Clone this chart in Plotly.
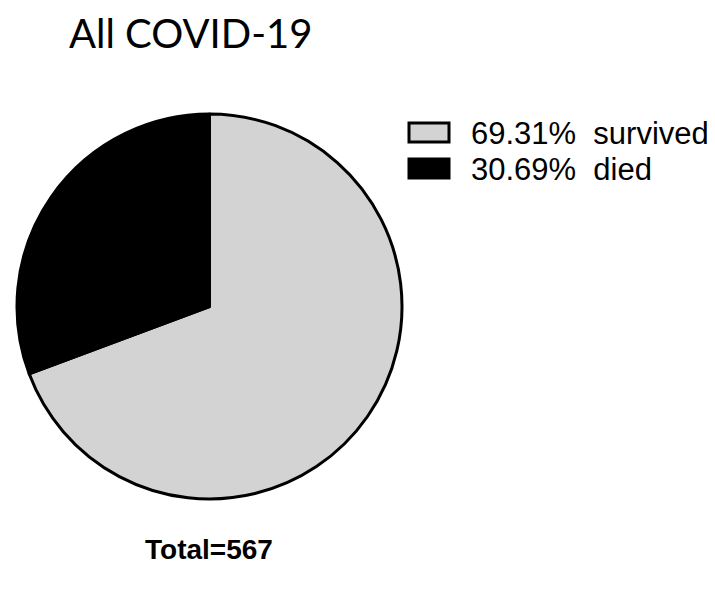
import plotly.graph_objects as go

labels = ["survived", "died"]
counts = [393, 174]
percents = ["69.31%", "30.69%"]
colors = ["#d3d3d3", "#000000"]
total = sum(counts)

W, H = 715, 589
OFF = 8  # page body margin offset


def px(x):
    return (x - OFF) / W


def py(y):
    return 1 - (y - OFF) / H


fig = go.Figure(go.Pie(
    labels=labels,
    values=counts,
    sort=False,
    direction="clockwise",
    rotation=0,
    marker=dict(colors=colors, line=dict(color="black", width=3)),
    textinfo="none",
    hoverinfo="label+value+percent",
    showlegend=False,
    domain=dict(x=[px(17), px(402)], y=[py(499), py(114)]),
))

shapes = []
annotations = [
    dict(text="All COVID-19", x=px(67), y=py(33), xref="paper", yref="paper",
         xanchor="left", yanchor="middle", showarrow=False,
         font=dict(family="Lato, Open Sans", size=40, color="black")),
    dict(text=f"<b>Total={total}</b>", x=px(209), y=py(549), xref="paper", yref="paper",
         xanchor="center", yanchor="middle", showarrow=False,
         font=dict(family="Liberation Sans, Arial", size=28, color="black")),
]

box_tops = [123, 159]
for i, (lab, pct, col) in enumerate(zip(labels, percents, colors)):
    top = box_tops[i]
    shapes.append(dict(type="rect", xref="paper", yref="paper",
                       x0=px(409), x1=px(449), y0=py(top + 19), y1=py(top),
                       fillcolor=col, line=dict(color="black", width=3)))
    annotations.append(dict(text=f"{pct}  {lab}", x=px(469), y=py(top + 10),
                            xref="paper", yref="paper", xanchor="left", yanchor="middle",
                            showarrow=False,
                            font=dict(family="Liberation Sans, Arial", size=31, color="black")))

fig.update_layout(
    width=W, height=H,
    margin=dict(l=0, r=0, t=0, b=0),
    paper_bgcolor="white",
    plot_bgcolor="white",
    shapes=shapes,
    annotations=annotations,
)

fig.write_html("out.html")
